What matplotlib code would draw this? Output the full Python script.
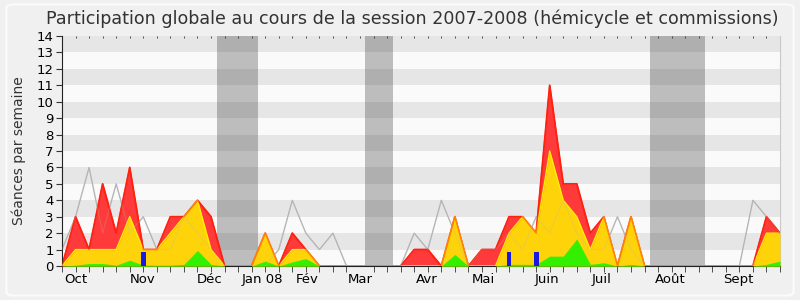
import numpy as np
import matplotlib
matplotlib.use("Agg")
import matplotlib.pyplot as plt
from matplotlib.patches import FancyBboxPatch

# weekly values, session 2007-2008 (one point per week)
weeks = np.arange(54)
total = [0, 3, 1, 5, 2, 6, 1, 1, 3, 3, 4, 3, 0, 0, 0, 2, 0, 2, 1, 0,
         0, 0, 0, 0, 0, 0, 1, 1, 0, 3, 0, 1, 1, 3, 3, 2, 11, 5, 5, 2,
         3, 0, 3, 0, 0, 0, 0, 0, 0, 0, 0, 0, 3, 2]
hemicycle = [0, 1, 1, 1, 1, 3, 1, 1, 2, 3, 4, 1, 0, 0, 0, 2, 0, 1, 1, 0,
             0, 0, 0, 0, 0, 0, 0, 0, 0, 3, 0, 0, 0, 2, 3, 2, 7, 4, 3, 1,
             3, 0, 3, 0, 0, 0, 0, 0, 0, 0, 0, 0, 2, 2]
interventions = [0, 0.05, 0.15, 0.15, 0.05, 0.35, 0.05, 0.05, 0.05, 0.1, 0.95, 0.1, 0, 0, 0, 0.3, 0, 0.25, 0.45, 0,
                 0, 0, 0, 0, 0, 0, 0, 0, 0, 0.7, 0, 0, 0, 0.1, 0.1, 0.1, 0.6, 0.6, 1.65, 0.1,
                 0.2, 0, 0.1, 0, 0, 0, 0, 0, 0, 0, 0, 0, 0.1, 0.3]
median = [1, 3, 6, 2, 5, 2, 3, 1, 1, 3, 2, 1, 0, 0, 0, 0, 1, 4, 2, 1,
          2, 0, 0, 0, 0, 0, 2, 1, 4, 2, 0, 1, 1, 2, 1, 3, 2, 4, 2, 1,
          1, 3, 1, 0, 0, 0, 0, 0, 0, 0, 0, 4, 3, 2]
question_weeks = [6, 33, 35]
question_values = [0.85, 0.85, 0.85]

vacances = [(11.45, 14.45), (22.4, 24.47), (43.4, 47.46)]

month_pos = [1.05, 5.95, 10.9, 14.8, 18.1, 22.0, 26.9, 31.1, 35.8, 39.8, 44.9, 49.9]
month_labels = ["Oct", "Nov", "Déc", "Jan 08", "Fév", "Mar", "Avr", "Mai", "Juin", "Juil", "Août", "Sept"]

fig = plt.figure(figsize=(8, 3), dpi=100, facecolor="#f0f0f0")
fig.patches.append(FancyBboxPatch((0.008, 0.015), 0.984, 0.97, boxstyle="round,pad=0,rounding_size=0.01",
                                  transform=fig.transFigure, facecolor="#f0f0f0",
                                  edgecolor="#fbfbfb", linewidth=1.5, zorder=-10))
ax = fig.add_axes([0.0775, 0.1133, 0.8975, 0.7667])
ax.set_facecolor("#fafafa")

# horizontal bands
for k in range(7):
    ax.axhspan(2 * k + 1, 2 * k + 2, color="#e6e6e6", lw=0, zorder=0)
for a, b in vacances:
    ax.axvspan(a, b, color="#323232", alpha=0.3, lw=0, zorder=1)

# median line sits under the coloured areas, faintly showing through
ax.plot(weeks, median, color="#b4b4b4", lw=0.9, zorder=1.5)
ax.fill_between(weeks, 0, total, color="#ff3a3a", lw=0, zorder=2)
ax.plot(weeks, total, color="#ff1a1a", lw=1.3, zorder=2.5)
ax.fill_between(weeks, 0, hemicycle, color="#ffd30a", lw=0, zorder=3)
ax.plot(weeks, hemicycle, color="#ffee00", lw=1.0, zorder=3.5)
ax.plot(weeks, total, color="#ff2a00", lw=1.0, alpha=0.55, zorder=3.6)
ax.fill_between(weeks, 0, interventions, color="#33f000", lw=0, zorder=4)
ax.plot(weeks, median, color="#b4b4b4", lw=0.9, alpha=0.25, zorder=4.5)
ax.bar(question_weeks, question_values, width=0.36, color="#1a1adf", zorder=5)

ax.set_xlim(0, 53)
ax.set_ylim(0, 14)
ax.set_yticks(range(15))
ax.tick_params(axis="y", labelsize=9.5, length=4, color="#333333", pad=2)
ax.set_xticks(month_pos)
ax.set_xticklabels(month_labels)
ax.set_xticks(range(54), minor=True)
ax.tick_params(axis="x", which="major", length=0, labelsize=9.5, pad=5)
ax.tick_params(axis="x", which="minor", length=4, color="#333333")

top = ax.secondary_xaxis("top")
top.set_xticks(range(54), minor=True)
top.set_xticks([])
top.tick_params(axis="x", which="minor", direction="in", length=1.5, color="#333333")
top.spines["top"].set_visible(False)

ax.spines["top"].set_visible(False)
ax.spines["right"].set_color("#c8c8c8")
ax.spines["left"].set_color("#222222")
ax.spines["bottom"].set_color("#222222")

ax.set_ylabel("Séances par semaine", fontsize=10, color="#333333", labelpad=8)
fig.suptitle("Participation globale au cours de la session 2007-2008 (hémicycle et commissions)",
             fontsize=12.6, color="#333333", x=0.515, y=0.968)

fig.savefig("out.png", dpi=100, facecolor=fig.get_facecolor())
